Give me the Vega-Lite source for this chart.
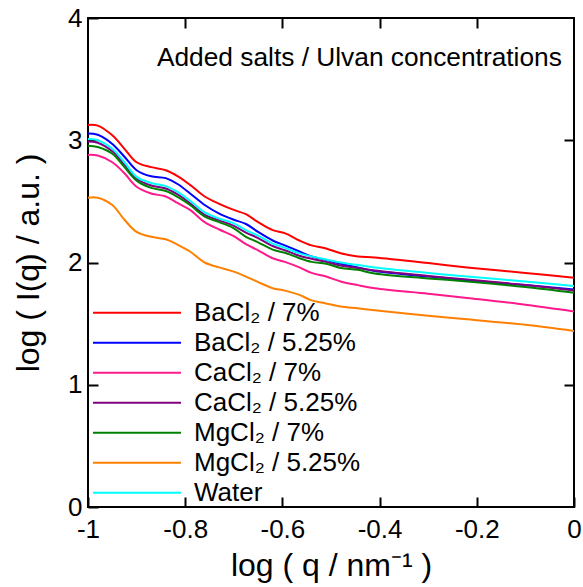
{
"$schema":"https://vega.github.io/schema/vega-lite/v6.json",
"width":486,"height":489,
"autosize":{"type":"none"},
"padding":{"left":88,"top":18,"right":9,"bottom":80},
"config":{"view":{"stroke":"black","strokeWidth":2},"font":"Liberation Sans",
 "axis":{"grid":false,"domain":false,"tickColor":"black","tickWidth":2,"tickSize":-10,"labelColor":"black","labelFontSize":26,"labelFont":"Liberation Sans","titleFont":"Liberation Sans","titleFontSize":32,"titleFontWeight":"normal","titleColor":"black","labelFlush":false,"labelOverlap":false,"labelBound":false}},
"layer":[
{"data":{"values":[
{"s":"BaCl₂ / 7%","x":-1,"y":3.125},{"s":"BaCl₂ / 7%","x":-0.98,"y":3.12},{"s":"BaCl₂ / 7%","x":-0.95,"y":3.04},{"s":"BaCl₂ / 7%","x":-0.925,"y":2.93},{"s":"BaCl₂ / 7%","x":-0.9,"y":2.82},{"s":"BaCl₂ / 7%","x":-0.87,"y":2.78},{"s":"BaCl₂ / 7%","x":-0.84,"y":2.755},{"s":"BaCl₂ / 7%","x":-0.815,"y":2.705},{"s":"BaCl₂ / 7%","x":-0.79,"y":2.635},{"s":"BaCl₂ / 7%","x":-0.76,"y":2.54},{"s":"BaCl₂ / 7%","x":-0.73,"y":2.48},{"s":"BaCl₂ / 7%","x":-0.7,"y":2.43},{"s":"BaCl₂ / 7%","x":-0.675,"y":2.395},{"s":"BaCl₂ / 7%","x":-0.65,"y":2.33},{"s":"BaCl₂ / 7%","x":-0.62,"y":2.265},{"s":"BaCl₂ / 7%","x":-0.595,"y":2.24},{"s":"BaCl₂ / 7%","x":-0.565,"y":2.18},{"s":"BaCl₂ / 7%","x":-0.54,"y":2.14},{"s":"BaCl₂ / 7%","x":-0.51,"y":2.115},{"s":"BaCl₂ / 7%","x":-0.48,"y":2.075},{"s":"BaCl₂ / 7%","x":-0.445,"y":2.05},{"s":"BaCl₂ / 7%","x":-0.41,"y":2.04},{"s":"BaCl₂ / 7%","x":-0.3,"y":1.995},{"s":"BaCl₂ / 7%","x":-0.22,"y":1.96},{"s":"BaCl₂ / 7%","x":-0.1,"y":1.915},{"s":"BaCl₂ / 7%","x":0,"y":1.875},
{"s":"BaCl₂ / 5.25%","x":-1,"y":3.055},{"s":"BaCl₂ / 5.25%","x":-0.98,"y":3.045},{"s":"BaCl₂ / 5.25%","x":-0.95,"y":2.97},{"s":"BaCl₂ / 5.25%","x":-0.925,"y":2.865},{"s":"BaCl₂ / 5.25%","x":-0.9,"y":2.755},{"s":"BaCl₂ / 5.25%","x":-0.87,"y":2.705},{"s":"BaCl₂ / 5.25%","x":-0.84,"y":2.69},{"s":"BaCl₂ / 5.25%","x":-0.815,"y":2.64},{"s":"BaCl₂ / 5.25%","x":-0.79,"y":2.565},{"s":"BaCl₂ / 5.25%","x":-0.76,"y":2.47},{"s":"BaCl₂ / 5.25%","x":-0.73,"y":2.4},{"s":"BaCl₂ / 5.25%","x":-0.7,"y":2.35},{"s":"BaCl₂ / 5.25%","x":-0.675,"y":2.315},{"s":"BaCl₂ / 5.25%","x":-0.65,"y":2.25},{"s":"BaCl₂ / 5.25%","x":-0.62,"y":2.18},{"s":"BaCl₂ / 5.25%","x":-0.595,"y":2.14},{"s":"BaCl₂ / 5.25%","x":-0.565,"y":2.09},{"s":"BaCl₂ / 5.25%","x":-0.54,"y":2.05},{"s":"BaCl₂ / 5.25%","x":-0.51,"y":2.02},{"s":"BaCl₂ / 5.25%","x":-0.48,"y":1.99},{"s":"BaCl₂ / 5.25%","x":-0.445,"y":1.96},{"s":"BaCl₂ / 5.25%","x":-0.41,"y":1.93},{"s":"BaCl₂ / 5.25%","x":-0.3,"y":1.885},{"s":"BaCl₂ / 5.25%","x":-0.22,"y":1.855},{"s":"BaCl₂ / 5.25%","x":-0.1,"y":1.815},{"s":"BaCl₂ / 5.25%","x":0,"y":1.78},
{"s":"CaCl₂ / 7%","x":-1,"y":2.88},{"s":"CaCl₂ / 7%","x":-0.98,"y":2.875},{"s":"CaCl₂ / 7%","x":-0.95,"y":2.82},{"s":"CaCl₂ / 7%","x":-0.925,"y":2.73},{"s":"CaCl₂ / 7%","x":-0.9,"y":2.62},{"s":"CaCl₂ / 7%","x":-0.87,"y":2.565},{"s":"CaCl₂ / 7%","x":-0.84,"y":2.54},{"s":"CaCl₂ / 7%","x":-0.815,"y":2.485},{"s":"CaCl₂ / 7%","x":-0.79,"y":2.43},{"s":"CaCl₂ / 7%","x":-0.76,"y":2.33},{"s":"CaCl₂ / 7%","x":-0.73,"y":2.27},{"s":"CaCl₂ / 7%","x":-0.7,"y":2.215},{"s":"CaCl₂ / 7%","x":-0.675,"y":2.15},{"s":"CaCl₂ / 7%","x":-0.65,"y":2.1},{"s":"CaCl₂ / 7%","x":-0.62,"y":2.035},{"s":"CaCl₂ / 7%","x":-0.595,"y":2.005},{"s":"CaCl₂ / 7%","x":-0.565,"y":1.96},{"s":"CaCl₂ / 7%","x":-0.54,"y":1.915},{"s":"CaCl₂ / 7%","x":-0.51,"y":1.885},{"s":"CaCl₂ / 7%","x":-0.48,"y":1.845},{"s":"CaCl₂ / 7%","x":-0.445,"y":1.815},{"s":"CaCl₂ / 7%","x":-0.41,"y":1.79},{"s":"CaCl₂ / 7%","x":-0.3,"y":1.745},{"s":"CaCl₂ / 7%","x":-0.22,"y":1.71},{"s":"CaCl₂ / 7%","x":-0.1,"y":1.655},{"s":"CaCl₂ / 7%","x":0,"y":1.6},
{"s":"CaCl₂ / 5.25%","x":-1,"y":2.99},{"s":"CaCl₂ / 5.25%","x":-0.98,"y":2.98},{"s":"CaCl₂ / 5.25%","x":-0.95,"y":2.91},{"s":"CaCl₂ / 5.25%","x":-0.925,"y":2.8},{"s":"CaCl₂ / 5.25%","x":-0.9,"y":2.685},{"s":"CaCl₂ / 5.25%","x":-0.87,"y":2.63},{"s":"CaCl₂ / 5.25%","x":-0.84,"y":2.605},{"s":"CaCl₂ / 5.25%","x":-0.815,"y":2.555},{"s":"CaCl₂ / 5.25%","x":-0.79,"y":2.485},{"s":"CaCl₂ / 5.25%","x":-0.76,"y":2.39},{"s":"CaCl₂ / 5.25%","x":-0.73,"y":2.345},{"s":"CaCl₂ / 5.25%","x":-0.7,"y":2.3},{"s":"CaCl₂ / 5.25%","x":-0.675,"y":2.245},{"s":"CaCl₂ / 5.25%","x":-0.65,"y":2.2},{"s":"CaCl₂ / 5.25%","x":-0.62,"y":2.135},{"s":"CaCl₂ / 5.25%","x":-0.595,"y":2.1},{"s":"CaCl₂ / 5.25%","x":-0.565,"y":2.055},{"s":"CaCl₂ / 5.25%","x":-0.54,"y":2.03},{"s":"CaCl₂ / 5.25%","x":-0.51,"y":2.005},{"s":"CaCl₂ / 5.25%","x":-0.48,"y":1.975},{"s":"CaCl₂ / 5.25%","x":-0.445,"y":1.955},{"s":"CaCl₂ / 5.25%","x":-0.41,"y":1.935},{"s":"CaCl₂ / 5.25%","x":-0.3,"y":1.89},{"s":"CaCl₂ / 5.25%","x":-0.22,"y":1.86},{"s":"CaCl₂ / 5.25%","x":-0.1,"y":1.815},{"s":"CaCl₂ / 5.25%","x":0,"y":1.77},
{"s":"MgCl₂ / 7%","x":-1,"y":2.955},{"s":"MgCl₂ / 7%","x":-0.98,"y":2.945},{"s":"MgCl₂ / 7%","x":-0.95,"y":2.89},{"s":"MgCl₂ / 7%","x":-0.925,"y":2.78},{"s":"MgCl₂ / 7%","x":-0.9,"y":2.67},{"s":"MgCl₂ / 7%","x":-0.87,"y":2.61},{"s":"MgCl₂ / 7%","x":-0.84,"y":2.585},{"s":"MgCl₂ / 7%","x":-0.815,"y":2.535},{"s":"MgCl₂ / 7%","x":-0.79,"y":2.47},{"s":"MgCl₂ / 7%","x":-0.76,"y":2.375},{"s":"MgCl₂ / 7%","x":-0.73,"y":2.33},{"s":"MgCl₂ / 7%","x":-0.7,"y":2.28},{"s":"MgCl₂ / 7%","x":-0.675,"y":2.21},{"s":"MgCl₂ / 7%","x":-0.65,"y":2.165},{"s":"MgCl₂ / 7%","x":-0.62,"y":2.105},{"s":"MgCl₂ / 7%","x":-0.595,"y":2.08},{"s":"MgCl₂ / 7%","x":-0.565,"y":2.035},{"s":"MgCl₂ / 7%","x":-0.54,"y":2.005},{"s":"MgCl₂ / 7%","x":-0.51,"y":1.99},{"s":"MgCl₂ / 7%","x":-0.48,"y":1.955},{"s":"MgCl₂ / 7%","x":-0.445,"y":1.94},{"s":"MgCl₂ / 7%","x":-0.41,"y":1.91},{"s":"MgCl₂ / 7%","x":-0.3,"y":1.87},{"s":"MgCl₂ / 7%","x":-0.22,"y":1.845},{"s":"MgCl₂ / 7%","x":-0.1,"y":1.8},{"s":"MgCl₂ / 7%","x":0,"y":1.753},
{"s":"MgCl₂ / 5.25%","x":-1,"y":2.53},{"s":"MgCl₂ / 5.25%","x":-0.98,"y":2.53},{"s":"MgCl₂ / 5.25%","x":-0.95,"y":2.47},{"s":"MgCl₂ / 5.25%","x":-0.925,"y":2.35},{"s":"MgCl₂ / 5.25%","x":-0.9,"y":2.25},{"s":"MgCl₂ / 5.25%","x":-0.87,"y":2.21},{"s":"MgCl₂ / 5.25%","x":-0.84,"y":2.19},{"s":"MgCl₂ / 5.25%","x":-0.815,"y":2.145},{"s":"MgCl₂ / 5.25%","x":-0.79,"y":2.09},{"s":"MgCl₂ / 5.25%","x":-0.76,"y":2.0},{"s":"MgCl₂ / 5.25%","x":-0.73,"y":1.96},{"s":"MgCl₂ / 5.25%","x":-0.7,"y":1.925},{"s":"MgCl₂ / 5.25%","x":-0.675,"y":1.885},{"s":"MgCl₂ / 5.25%","x":-0.65,"y":1.84},{"s":"MgCl₂ / 5.25%","x":-0.62,"y":1.79},{"s":"MgCl₂ / 5.25%","x":-0.595,"y":1.77},{"s":"MgCl₂ / 5.25%","x":-0.565,"y":1.735},{"s":"MgCl₂ / 5.25%","x":-0.54,"y":1.69},{"s":"MgCl₂ / 5.25%","x":-0.51,"y":1.665},{"s":"MgCl₂ / 5.25%","x":-0.48,"y":1.64},{"s":"MgCl₂ / 5.25%","x":-0.445,"y":1.625},{"s":"MgCl₂ / 5.25%","x":-0.41,"y":1.61},{"s":"MgCl₂ / 5.25%","x":-0.3,"y":1.565},{"s":"MgCl₂ / 5.25%","x":-0.22,"y":1.535},{"s":"MgCl₂ / 5.25%","x":-0.1,"y":1.49},{"s":"MgCl₂ / 5.25%","x":0,"y":1.44},
{"s":"Water","x":-1,"y":3.01},{"s":"Water","x":-0.98,"y":3.0},{"s":"Water","x":-0.95,"y":2.93},{"s":"Water","x":-0.925,"y":2.82},{"s":"Water","x":-0.9,"y":2.7},{"s":"Water","x":-0.87,"y":2.65},{"s":"Water","x":-0.84,"y":2.625},{"s":"Water","x":-0.815,"y":2.575},{"s":"Water","x":-0.79,"y":2.505},{"s":"Water","x":-0.76,"y":2.41},{"s":"Water","x":-0.73,"y":2.36},{"s":"Water","x":-0.7,"y":2.32},{"s":"Water","x":-0.675,"y":2.265},{"s":"Water","x":-0.65,"y":2.22},{"s":"Water","x":-0.62,"y":2.155},{"s":"Water","x":-0.595,"y":2.12},{"s":"Water","x":-0.565,"y":2.075},{"s":"Water","x":-0.54,"y":2.05},{"s":"Water","x":-0.51,"y":2.025},{"s":"Water","x":-0.48,"y":2.0},{"s":"Water","x":-0.445,"y":1.98},{"s":"Water","x":-0.41,"y":1.96},{"s":"Water","x":-0.3,"y":1.915},{"s":"Water","x":-0.22,"y":1.885},{"s":"Water","x":-0.1,"y":1.845},{"s":"Water","x":0,"y":1.807}
]},
"mark":{"type":"line","strokeWidth":2,"interpolate":"catmull-rom"},
"encoding":{
 "x":{"field":"x","type":"quantitative","scale":{"domain":[-1,0],"nice":false,"zero":false},
   "axis":{"orient":"bottom","values":[-1,-0.8,-0.6,-0.4,-0.2,0],"labelExpr":"'' + datum.value","labelPadding":19,"title":"log ( q / nm⁻¹ )","titlePadding":8}},
 "y":{"field":"y","type":"quantitative","scale":{"domain":[0,4],"nice":false,"zero":false},
   "axis":{"orient":"left","values":[0,1,2,3,4],"labelExpr":"'' + datum.value","labelPadding":16,"title":"log ( I(q) / a.u. )","titlePadding":22}},
 "color":{"field":"s","type":"nominal",
   "scale":{"domain":["BaCl₂ / 7%","BaCl₂ / 5.25%","CaCl₂ / 7%","CaCl₂ / 5.25%","MgCl₂ / 7%","MgCl₂ / 5.25%","Water"],
            "range":["#ff0000","#0000ff","#ff1a8c","#800080","#008000","#ff8000","#00ffff"]},
   "legend":{"title":null,"orient":"none","legendX":4,"legendY":280,"padding":0,"symbolType":"stroke","symbolSize":7744,"symbolStrokeWidth":2,"clipHeight":29.6,"rowPadding":0,"labelOffset":12,"labelFontSize":26,"labelFont":"Liberation Sans","labelColor":"black","labelLimit":0}}
}},
{"data":{"values":[{"t":"Added salts / Ulvan concentrations","x":-0.025,"y":3.61}]},
"mark":{"type":"text","align":"right","baseline":"alphabetic","fontSize":26.3,"font":"Liberation Sans","color":"black"},
"encoding":{
 "x":{"field":"x","type":"quantitative","axis":{"orient":"top","values":[-0.8,-0.6,-0.4,-0.2],"labels":false,"title":null}},
 "y":{"field":"y","type":"quantitative","axis":{"orient":"right","values":[1,2,3],"labels":false,"title":null}},
 "text":{"field":"t"}
}}
],
"resolve":{"axis":{"x":"independent","y":"independent"}}
}
